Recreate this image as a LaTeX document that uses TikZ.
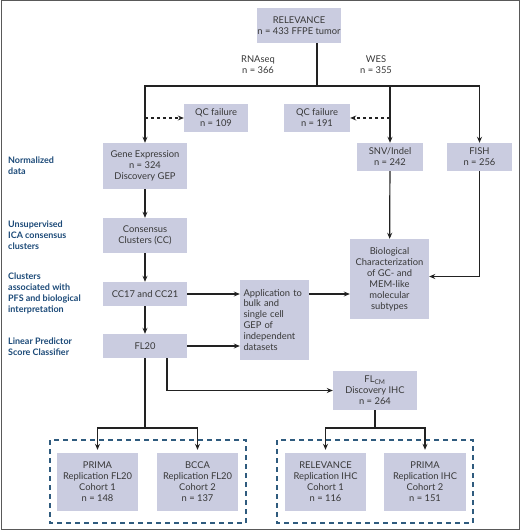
\documentclass[tikz,border=0pt]{standalone}
\usepackage{fontspec}
\setmainfont{Lato}
\usetikzlibrary{arrows.meta}
\definecolor{boxfill}{HTML}{CACCE0}
\definecolor{labblue}{HTML}{1C4A78}
\definecolor{dashblue}{HTML}{2F5B7E}
\definecolor{linecol}{HTML}{222222}
\definecolor{txtcol}{HTML}{383838}
\begin{document}
\begin{tikzpicture}[x=1bp,y=-1bp,
  font=\fontsize{9.4}{11}\selectfont,
  box/.style={fill=boxfill,draw=none,text=txtcol,align=center,inner sep=0pt},
  sidelab/.style={anchor=west,align=left,text=labblue,font=\fontsize{9}{11}\selectfont\bfseries,inner sep=0pt},
  branchlab/.style={align=center,text=txtcol,inner sep=0pt},
  conn/.style={draw=linecol,line width=1.2bp},
  arr/.style={conn,-{Stealth[length=6bp,width=5bp]}},
  dbox/.style={draw=dashblue,line width=1.3bp,dash pattern=on 5bp off 4bp}]
\useasboundingbox (0,0) rectangle (520,531);
\draw[draw=gray!70!black,line width=0.8bp] (1.5,0.8) rectangle (519,529.5);

% nodes
\node[box,minimum width=72bp,minimum height=35bp] (rel) at (299,25.5) {RELEVANCE\\n = 433 FFPE tumor};
\node[branchlab] (rna) at (258,64.5) {RNAseq\\n = 366};
\node[branchlab] (wes) at (376,64.5) {WES\\n = 355};
\node[box,minimum width=64bp,minimum height=28bp] (qc1) at (216,118) {QC failure\\n = 109};
\node[box,minimum width=66bp,minimum height=28bp] (qc2) at (317,118) {QC failure\\n = 191};
\node[box,minimum width=84bp,minimum height=46bp] (ge) at (145,166) {Gene Expression\\n = 324\\Discovery GEP};
\node[box,minimum width=66bp,minimum height=28bp] (snv) at (390,157) {SNV/Indel\\n = 242};
\node[box,minimum width=65bp,minimum height=28bp] (fish) at (479.5,157) {FISH\\n = 256};
\node[box,minimum width=84bp,minimum height=35bp] (cc) at (145,235.5) {Consensus\\Clusters (CC)};
\node[box,minimum width=84bp,minimum height=24bp] (cc17) at (145,294) {CC17 and CC21};
\node[box,minimum width=84bp,minimum height=24bp] (fl20) at (145,346) {FL20};
\node[box,minimum width=69bp,minimum height=80bp,align=left,text width=62bp] (app) at (274.5,320) {Application to\\bulk and\\single cell\\GEP of\\independent\\datasets};
\node[box,minimum width=79bp,minimum height=80bp] (bio) at (389.5,279) {Biological\\Characterization\\of GC- and\\MEM-like\\molecular\\subtypes};
\node[box,minimum width=84bp,minimum height=39bp] (flcm) at (375,390.5) {FL\textsubscript{CM}\\Discovery IHC\\n = 264};
\node[box,minimum width=81bp,minimum height=58bp] (p1) at (97.5,482) {PRIMA\\Replication FL20\\Cohort 1\\n = 148};
\node[box,minimum width=81bp,minimum height=58bp] (b2) at (197.5,482) {BCCA\\Replication FL20\\Cohort 2\\n = 137};
\node[box,minimum width=81bp,minimum height=58bp] (r1) at (325.5,482) {RELEVANCE\\Replication IHC\\Cohort 1\\n = 116};
\node[box,minimum width=82bp,minimum height=58bp] (p2) at (425,482) {PRIMA\\Replication IHC\\Cohort 2\\n = 151};

% dashed groups
\draw[dbox] (50,440) rectangle (246,523);
\draw[dbox] (277,440) rectangle (473,523);

% side labels
\node[sidelab] (l1) at (8,166) {Normalized\\data};
\node[sidelab] (l2) at (8,235) {Unsupervised\\ICA consensus\\clusters};
\node[sidelab] (l3) at (8,293.5) {Clusters\\associated with\\PFS and biological\\interpretation};
\node[sidelab] (l4) at (8,346.5) {Linear Predictor\\Score Classifier};

% connectors
\coordinate (j) at (317,86);
\draw[conn] (rel.south -| j) -- (j);
\draw[arr] (j) -| (ge.north);
\draw[arr] (j) -| (snv.north);
\draw[arr] (j) -| (fish.north);
\draw[arr,dashed] (qc1.west -| ge) -- (qc1.west);
\draw[arr,dashed] (qc2.east -| snv) -- (qc2.east);
\draw[arr] (ge) -- (cc);
\draw[arr] (cc) -- (cc17);
\draw[arr] (cc17) -- (fl20);
\draw[arr] (cc17.east) -- (cc17.east -| app.west);
\draw[arr] (fl20.east) -- (fl20.east -| app.west);
\draw[arr] (app.east |- cc17) -- (bio.west |- cc17);
\draw[arr] (snv) -- (bio);
\draw[arr] (fish.south) |- ([yshift=2.5bp]bio.east);
\draw[arr] ([xshift=22bp]fl20.south) |- (flcm.west);
\coordinate (jl) at (145,428);
\coordinate (jr) at (375,428);
\draw[conn] (fl20.south) -- (jl);
\draw[arr,shorten >=3bp] (jl) -| (p1.north);
\draw[arr,shorten >=3bp] (jl) -| (b2.north);
\draw[conn] (flcm.south) -- (jr);
\draw[arr,shorten >=3bp] (jr) -| (r1.north);
\draw[arr,shorten >=3bp] (jr) -| (p2.north);
\end{tikzpicture}
\end{document}
